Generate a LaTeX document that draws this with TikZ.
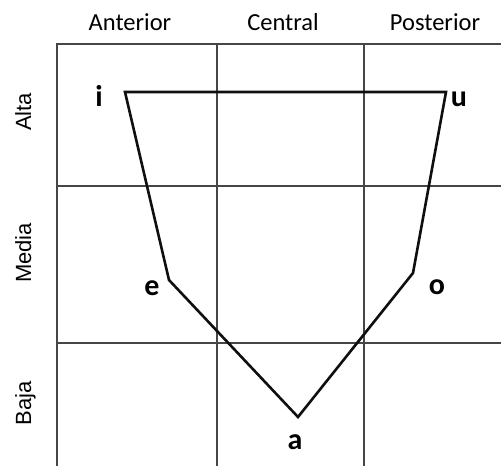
\documentclass[tikz,border=0pt]{standalone}
\usepackage{fontspec}
\setmainfont{Carlito}
\newfontfamily\arialfont{Liberation Sans}
\definecolor{gridGray}{RGB}{70,70,70}
\definecolor{lineBlack}{RGB}{15,15,15}

\begin{document}
\begin{tikzpicture}[
  x=1pt, y=-1pt,
  cell/.style={draw=gridGray, line width=1.3pt},
  tract/.style={draw=lineBlack, line width=2.6pt, line join=miter},
  colhead/.style={font=\fontsize{24.5}{28}\selectfont, anchor=base},
  rowhead/.style={font=\arialfont\fontsize{22}{26}\selectfont, rotate=90, anchor=base},
  vowel/.style={font=\bfseries\fontsize{30}{34}\selectfont, inner sep=0pt}
]
  \useasboundingbox (0,0) rectangle (501,466);

  % grid
  \draw[cell] (57,466) -- (57,44) -- (501,44);
  \draw[cell] (217,44) -- (217,466);
  \draw[cell] (364,44) -- (364,466);
  \draw[cell] (57,186) -- (501,186);
  \draw[cell] (57,343) -- (501,343);

  % column and row headings
  \node[colhead] (ant) at (130,30) {Anterior};
  \node[colhead] (cen) at (283,30) {Central};
  \node[colhead] (pos) at (435,30) {Posterior};
  \node[rowhead] (alta) at (31,112) {Alta};
  \node[rowhead] (media) at (31,253) {Media};
  \node[rowhead] (baja) at (31,403) {Baja};

  % vowel points
  \coordinate (i) at (125,92);
  \coordinate (u) at (446,92);
  \coordinate (e) at (169,280);
  \coordinate (o) at (413,273);
  \coordinate (a) at (298,417);

  \draw[tract] (i) -- (u) -- (o) -- (a) -- (e) -- cycle;

  \node[vowel] (li) at (99,96) {i};
  \node[vowel] (lu) at (459,99) {u};
  \node[vowel] (le) at (152,288) {e};
  \node[vowel] (lo) at (437,287) {o};
  \node[vowel] (la) at (295,442) {a};
\end{tikzpicture}
\end{document}
